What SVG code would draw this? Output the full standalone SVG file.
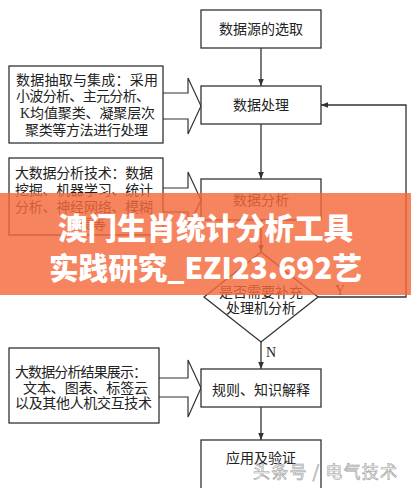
<svg xmlns="http://www.w3.org/2000/svg" width="411" height="488" viewBox="0 0 411 488">
<defs>
<style>
.box{fill:#fff;stroke:#333;stroke-width:1.3}
.ln{fill:none;stroke:#333;stroke-width:1.3}
.big{fill:#fff;stroke:#333;stroke-width:1.2}
.t{font-family:"Liberation Serif","Noto Sans CJK SC",serif;font-size:14px;fill:#222}
.c{text-anchor:middle}
.ban{font-family:"Noto Sans CJK SC",sans-serif;font-weight:900;font-size:30px;fill:#fff}
</style>
<marker id="ah" viewBox="0 0 10 10" refX="10" refY="5" markerWidth="7" markerHeight="7" orient="auto" markerUnits="userSpaceOnUse">
<path d="M0,1 L10,5 L0,9 Z" fill="#333"/>
</marker>
</defs>
<rect width="411" height="488" fill="#fff"/>

<g id="connectors">
<line class="ln" x1="261" y1="48" x2="261" y2="86" marker-end="url(#ah)"/>
<line class="ln" x1="261" y1="124" x2="261" y2="179" marker-end="url(#ah)"/>
<line class="ln" x1="261" y1="220" x2="261" y2="252" marker-end="url(#ah)"/>
<line class="ln" x1="261" y1="342" x2="261" y2="369" marker-end="url(#ah)"/>
<line class="ln" x1="261" y1="407" x2="261" y2="440" marker-end="url(#ah)"/>
<polyline class="ln" points="318,297 406,297 406,105 321,105" marker-end="url(#ah)"/>
<text class="t" x="335" y="295">Y</text>
<text class="t" x="266" y="357">N</text>
<path class="big" d="M163,93 L188,93 L188,78 L201,106 L188,134 L188,119 L163,119"/>
<path class="big" d="M163,188 L188,188 L188,172 L201,200 L188,228 L188,212 L163,212"/>
<path class="big" d="M159,378 L188,378 L188,360 L201,388 L188,417 L188,397 L159,397"/>
</g>

<g id="n-source">
<rect class="box" x="201" y="10" width="120" height="38"/>
<text class="t c" x="261" y="34">数据源的选取</text>
</g>
<g id="n-process">
<rect class="box" x="201" y="86" width="120" height="38"/>
<text class="t c" x="261" y="110">数据处理</text>
</g>
<g id="n-analysis">
<rect class="box" x="201" y="179" width="120" height="41"/>
<text class="t c" x="261" y="205">数据分析</text>
</g>
<g id="n-decision">
<polygon class="box" points="261,252 318,297 261,342 204,297"/>
<text class="t c" x="261" y="297">是否需要补充</text>
<text class="t c" x="261" y="313">处理机分析</text>
</g>
<g id="n-rules">
<rect class="box" x="201" y="369" width="120" height="38"/>
<text class="t c" x="261" y="395">规则、知识解释</text>
</g>
<g id="n-apply">
<rect class="box" x="201" y="440" width="120" height="52"/>
<text class="t c" x="261" y="463">应用及验证</text>
</g>

<g id="n-note1">
<rect class="box" x="9" y="66" width="154" height="77"/>
<text class="t" x="16" y="85" textLength="142" lengthAdjust="spacing">数据抽取与集成：采用</text>
<text class="t" x="16" y="101" textLength="134" lengthAdjust="spacing">小波分析、主元分析、</text>
<text class="t" x="20" y="118" textLength="135" lengthAdjust="spacing">K均值聚类、凝聚层次</text>
<text class="t" x="25" y="135" textLength="123" lengthAdjust="spacing">聚类等方法进行处理</text>
</g>
<g id="n-note2">
<rect class="box" x="9" y="158" width="154" height="77"/>
<text class="t" x="15" y="178" textLength="138" lengthAdjust="spacing">大数据分析技术：数据</text>
<text class="t" x="15" y="195" textLength="138" lengthAdjust="spacing">挖掘、机器学习、统计</text>
<text class="t" x="15" y="212" textLength="138" lengthAdjust="spacing">分析、神经网络、模糊</text>
<text class="t" x="78" y="229">集等</text>
</g>
<g id="n-note3">
<rect class="box" x="9" y="348" width="150" height="75"/>
<text class="t" x="15" y="377" textLength="132" lengthAdjust="spacing">大数据分析结果展示：</text>
<text class="t" x="23" y="393" textLength="125" lengthAdjust="spacing">文本、图表、标签云</text>
<text class="t" x="15" y="408" textLength="137" lengthAdjust="spacing">以及其他人机交互技术</text>
</g>

<g id="watermark">
<text x="253" y="478" font-family="Noto Sans CJK SC,sans-serif" font-size="17" fill="#fff" stroke="#999" stroke-width="0.6" textLength="144" lengthAdjust="spacing">头条号 / 电气技术</text>
</g>

<g id="banner">
<rect x="0" y="193" width="411" height="102" fill="#f46a3c" fill-opacity="0.82"/>
<text class="ban" x="58" y="239" textLength="295" lengthAdjust="spacingAndGlyphs">澳门生肖统计分析工具</text>
<text class="ban" x="49" y="279" textLength="313" lengthAdjust="spacingAndGlyphs">实践研究_EZI23.692艺</text>
</g>
</svg>
